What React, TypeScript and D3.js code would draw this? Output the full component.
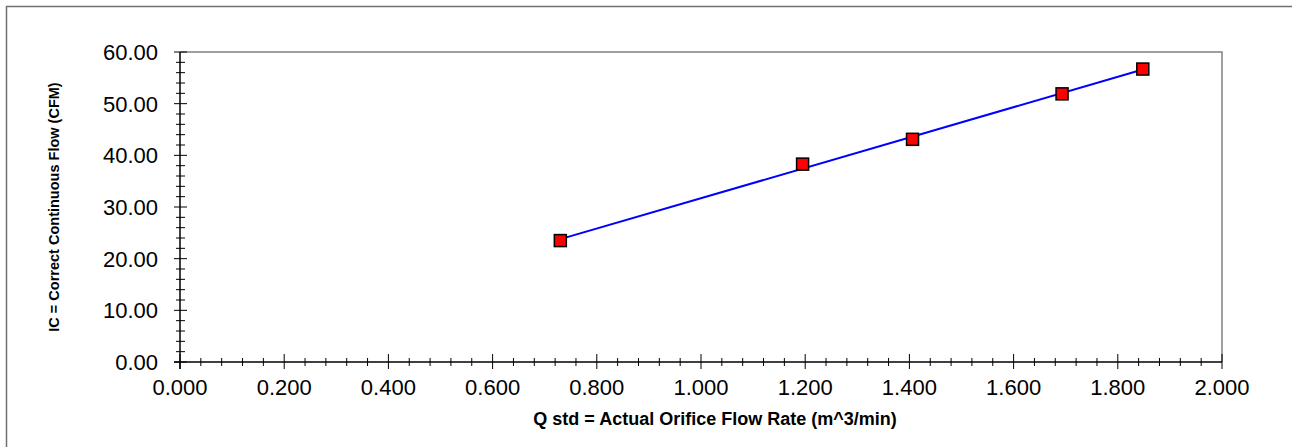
import * as d3 from 'd3';
import React, { useRef, useEffect } from 'react';

// orifice calibration points
const qStd = [0.730, 1.195, 1.406, 1.693, 1.848];
const icFlow = [23.5, 38.3, 43.1, 51.9, 56.7];
const xTicks = [0, 0.2, 0.4, 0.6, 0.8, 1.0, 1.2, 1.4, 1.6, 1.8, 2.0];
const yTicks = [0, 10, 20, 30, 40, 50, 60];
const xTitle = 'Q std = Actual Orifice Flow Rate (m^3/min)';
const yTitle = 'IC = Correct Continuous Flow (CFM)';

function App() {
    const ref = useRef<SVGSVGElement>(null);
    const width = 1292;
    const height = 447;

    useEffect(() => {
        const margin = { top: 52, right: 70, bottom: 85, left: 180 };
        const svg = d3.select(ref.current);
        svg.selectAll('*').remove();

        // outer frame, only left and top edges are inside the window
        svg.append('path')
            .attr('d', `M6.5,${height + 10}V6.5H${width + 10}`)
            .attr('fill', 'none')
            .attr('stroke', '#707070')
            .attr('stroke-width', 1.5);

        const xScale = d3.scaleLinear().domain([0, 2]).range([margin.left, width - margin.right]);
        const yScale = d3.scaleLinear().domain([0, 60]).range([height - margin.bottom, margin.top]);
        const x0 = xScale(0), x1 = xScale(2), y0 = yScale(0), y1 = yScale(60);

        // plot area frame, top and right
        svg.append('path')
            .attr('d', `M${x0},${y1}H${x1}V${y0}`)
            .attr('fill', 'none')
            .attr('stroke', '#808080')
            .attr('stroke-width', 1.5);

        const font = '"Liberation Sans", Arial, sans-serif';

        // x axis
        const xAxis = svg.append('g');
        xAxis.append('line').attr('x1', x0 - 6).attr('x2', x1).attr('y1', y0).attr('y2', y0)
            .attr('stroke', 'black').attr('stroke-width', 1.5);
        d3.range(0, 51).forEach((i) => {
            const v = i * 0.04;
            const major = i % 5 === 0;
            xAxis.append('line')
                .attr('x1', xScale(v)).attr('x2', xScale(v))
                .attr('y1', y0 - (major ? 8 : 4)).attr('y2', y0 + (major ? 7 : 4))
                .attr('stroke', 'black').attr('stroke-width', 1);
        });
        xAxis.selectAll('text.xl').data(xTicks).enter().append('text')
            .attr('x', (d) => xScale(d)).attr('y', y0 + 33)
            .attr('text-anchor', 'middle')
            .style('font-family', font).style('font-size', '22px')
            .text((d) => d.toFixed(3));

        // y axis
        const yAxis = svg.append('g');
        yAxis.append('line').attr('x1', x0).attr('x2', x0).attr('y1', y1).attr('y2', y0 + 7)
            .attr('stroke', 'black').attr('stroke-width', 1.5);
        d3.range(0, 31).forEach((i) => {
            const v = i * 2;
            const major = i % 5 === 0;
            yAxis.append('line')
                .attr('x1', x0 - (major ? 6 : 4)).attr('x2', x0 + (major ? 7 : 5))
                .attr('y1', yScale(v)).attr('y2', yScale(v))
                .attr('stroke', 'black').attr('stroke-width', 1);
        });
        yAxis.selectAll('text.yl').data(yTicks).enter().append('text')
            .attr('x', x0 - 22).attr('y', (d) => yScale(d) + 8)
            .attr('text-anchor', 'end')
            .style('font-family', font).style('font-size', '22px')
            .text((d) => d.toFixed(2));

        // titles
        svg.append('text')
            .attr('x', 715).attr('y', 425)
            .attr('text-anchor', 'middle')
            .style('font-family', font).style('font-size', '18px').style('font-weight', 'bold')
            .text(xTitle);
        svg.append('text')
            .attr('transform', `translate(59,${(y0 + y1) / 2}) rotate(-90)`)
            .attr('text-anchor', 'middle')
            .style('font-family', font).style('font-size', '14.5px').style('font-weight', 'bold')
            .text(yTitle);

        // linear fit through the points
        const mx = d3.mean(qStd)!;
        const my = d3.mean(icFlow)!;
        const slope = d3.sum(qStd, (q, i) => (q - mx) * (icFlow[i] - my)) / d3.sum(qStd, (q) => (q - mx) ** 2);
        const icpt = my - slope * mx;
        const xs = d3.extent(qStd) as [number, number];
        const line = d3.line<number>().x((d) => xScale(d)).y((d) => yScale(icpt + slope * d));
        svg.append('path')
            .attr('d', line(xs))
            .attr('fill', 'none')
            .attr('stroke', '#0000ff')
            .attr('stroke-width', 2);

        // markers
        const s = 12;
        svg.selectAll('rect.pt').data(qStd).enter().append('rect')
            .attr('class', 'pt')
            .attr('x', (d) => xScale(d) - s / 2)
            .attr('y', (d, i) => yScale(icFlow[i]) - s / 2)
            .attr('width', s).attr('height', s)
            .attr('fill', '#ff0000')
            .attr('stroke', 'black')
            .attr('stroke-width', 1.5);
    }, []);

    return (
        <svg ref={ref} width={width} height={height}
            style={{ position: 'absolute', left: 0, top: 0, display: 'block' }}>
        </svg>
    );
}

export default App;
